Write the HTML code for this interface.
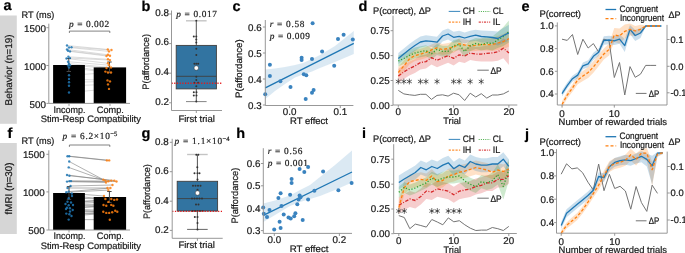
<!DOCTYPE html>
<html><head><meta charset="utf-8"><style>
html,body{margin:0;padding:0;background:#fff;}
svg{display:block;font-family:"Liberation Sans", sans-serif;will-change:transform;}
text{text-rendering:geometricPrecision;stroke:#1a1a1a;stroke-width:0.22px;paint-order:stroke;}
text.pv{stroke-width:0.2px;}
</style></head><body>
<svg width="685" height="253" viewBox="0 0 685 253" font-family='"Liberation Sans", sans-serif' fill="#1a1a1a">
<rect x="0" y="15.5" width="16.8" height="108.3" fill="#d6d6d6" />
<text x="11.9" y="70" font-size="9.8" text-anchor="middle" textLength="71" lengthAdjust="spacingAndGlyphs" transform="rotate(-90 11.9 70)">Behavior (n=19)</text>
<rect x="0" y="143" width="16.8" height="91" fill="#d6d6d6" />
<text x="11.9" y="188.5" font-size="9.8" text-anchor="middle" textLength="52" lengthAdjust="spacingAndGlyphs" transform="rotate(-90 11.9 188.5)">fMRI (n=30)</text>
<text x="3.6" y="10.4" font-size="14.5" font-weight="bold" fill="#000">a</text>
<line x1="67" y1="45.5" x2="107.8" y2="49.5" stroke="#c4c4c4" stroke-width="0.6" />
<line x1="71.5" y1="47.2" x2="111.5" y2="50" stroke="#c4c4c4" stroke-width="0.6" />
<line x1="69" y1="47.5" x2="109" y2="51.4" stroke="#c4c4c4" stroke-width="0.6" />
<line x1="67" y1="49.5" x2="108" y2="54.8" stroke="#c4c4c4" stroke-width="0.6" />
<line x1="68" y1="50.8" x2="110" y2="55.8" stroke="#c4c4c4" stroke-width="0.6" />
<line x1="70" y1="51.4" x2="106.5" y2="56" stroke="#c4c4c4" stroke-width="0.6" />
<line x1="68.4" y1="56.8" x2="108" y2="59.3" stroke="#c4c4c4" stroke-width="0.6" />
<line x1="70" y1="58.1" x2="110" y2="60.1" stroke="#c4c4c4" stroke-width="0.6" />
<line x1="66.5" y1="58.5" x2="108" y2="63.3" stroke="#c4c4c4" stroke-width="0.6" />
<line x1="68" y1="61.7" x2="109" y2="65.2" stroke="#c4c4c4" stroke-width="0.6" />
<line x1="69" y1="63.7" x2="111" y2="67.5" stroke="#c4c4c4" stroke-width="0.6" />
<line x1="70" y1="65.2" x2="106.5" y2="68" stroke="#c4c4c4" stroke-width="0.6" />
<line x1="68" y1="65.6" x2="105.4" y2="71.6" stroke="#c4c4c4" stroke-width="0.6" />
<line x1="69" y1="67.6" x2="108" y2="72.5" stroke="#c4c4c4" stroke-width="0.6" />
<line x1="69" y1="75.3" x2="111" y2="72.5" stroke="#c4c4c4" stroke-width="0.6" />
<line x1="69" y1="79" x2="107.5" y2="80.4" stroke="#c4c4c4" stroke-width="0.6" />
<line x1="69" y1="82.3" x2="110" y2="81.4" stroke="#c4c4c4" stroke-width="0.6" />
<line x1="69" y1="85.8" x2="108" y2="84.4" stroke="#c4c4c4" stroke-width="0.6" />
<line x1="69" y1="92.5" x2="109" y2="88.9" stroke="#c4c4c4" stroke-width="0.6" />
<rect x="53.1" y="65" width="31.8" height="38.4" fill="#000" />
<rect x="93.7" y="67.4" width="32.4" height="36" fill="#000" />
<line x1="48.8" y1="23.7" x2="48.8" y2="103.4" stroke="#8c8c8c" stroke-width="0.9" />
<line x1="48.8" y1="103.4" x2="130" y2="103.4" stroke="#8c8c8c" stroke-width="0.9" />
<line x1="46.4" y1="27.7" x2="48.8" y2="27.7" stroke="#8c8c8c" stroke-width="0.9" />
<text x="45.9" y="31.81" font-size="9.8" text-anchor="end">1500</text>
<line x1="46.4" y1="65.5" x2="48.8" y2="65.5" stroke="#8c8c8c" stroke-width="0.9" />
<text x="45.9" y="69.61" font-size="9.8" text-anchor="end">1000</text>
<line x1="46.4" y1="103.4" x2="48.8" y2="103.4" stroke="#8c8c8c" stroke-width="0.9" />
<text x="45.9" y="107.51" font-size="9.8" text-anchor="end">500</text>
<line x1="69" y1="103.4" x2="69" y2="105.9" stroke="#8c8c8c" stroke-width="0.9" />
<line x1="110" y1="103.4" x2="110" y2="105.9" stroke="#8c8c8c" stroke-width="0.9" />
<text x="69.5" y="112.6" font-size="9.4" text-anchor="middle" textLength="32" lengthAdjust="spacingAndGlyphs">Incomp.</text>
<text x="110.3" y="112.6" font-size="9.4" text-anchor="middle" textLength="27" lengthAdjust="spacingAndGlyphs">Comp.</text>
<text x="90.8" y="122.2" font-size="9.4" text-anchor="middle" textLength="100.3" lengthAdjust="spacingAndGlyphs">Stim-Resp Compatibility</text>
<text x="21.6" y="17.8" font-size="9.4" textLength="32.8" lengthAdjust="spacingAndGlyphs">RT (ms)</text>
<line x1="68.8" y1="58.5" x2="68.8" y2="71.5" stroke="#444" stroke-width="1.0" />
<line x1="66.6" y1="58.5" x2="71" y2="58.5" stroke="#444" stroke-width="1.0" />
<line x1="66.6" y1="71.5" x2="71" y2="71.5" stroke="#444" stroke-width="1.0" />
<line x1="109.5" y1="62" x2="109.5" y2="72.8" stroke="#444" stroke-width="1.0" />
<line x1="107.3" y1="62" x2="111.7" y2="62" stroke="#444" stroke-width="1.0" />
<line x1="107.3" y1="72.8" x2="111.7" y2="72.8" stroke="#444" stroke-width="1.0" />
<circle cx="67" cy="45.5" r="1.2" fill="#1f77b4" fill-opacity="0.85"/>
<circle cx="69" cy="47.5" r="1.2" fill="#1f77b4" fill-opacity="0.85"/>
<circle cx="71.5" cy="47.2" r="1.2" fill="#1f77b4" fill-opacity="0.85"/>
<circle cx="67" cy="49.5" r="1.2" fill="#1f77b4" fill-opacity="0.85"/>
<circle cx="68" cy="50.8" r="1.2" fill="#1f77b4" fill-opacity="0.85"/>
<circle cx="70" cy="51.4" r="1.2" fill="#1f77b4" fill-opacity="0.85"/>
<circle cx="68.4" cy="56.8" r="1.2" fill="#1f77b4" fill-opacity="0.85"/>
<circle cx="70" cy="58.1" r="1.2" fill="#1f77b4" fill-opacity="0.85"/>
<circle cx="66.5" cy="58.5" r="1.2" fill="#1f77b4" fill-opacity="0.85"/>
<circle cx="68" cy="61.7" r="1.2" fill="#1f77b4" fill-opacity="0.85"/>
<circle cx="69" cy="63.7" r="1.2" fill="#1f77b4" fill-opacity="0.85"/>
<circle cx="70" cy="65.2" r="1.2" fill="#1f77b4" fill-opacity="0.85"/>
<circle cx="68" cy="65.6" r="1.2" fill="#1f77b4" fill-opacity="0.85"/>
<circle cx="69" cy="67.6" r="1.2" fill="#1f77b4" fill-opacity="0.85"/>
<circle cx="69" cy="75.3" r="1.2" fill="#1f77b4" fill-opacity="0.85"/>
<circle cx="69" cy="79" r="1.2" fill="#1f77b4" fill-opacity="0.85"/>
<circle cx="69" cy="82.3" r="1.2" fill="#1f77b4" fill-opacity="0.85"/>
<circle cx="69" cy="85.8" r="1.2" fill="#1f77b4" fill-opacity="0.85"/>
<circle cx="69" cy="92.5" r="1.2" fill="#1f77b4" fill-opacity="0.85"/>
<circle cx="107.8" cy="49.5" r="1.2" fill="#ff7f0e" fill-opacity="0.85"/>
<circle cx="111.5" cy="50" r="1.2" fill="#ff7f0e" fill-opacity="0.85"/>
<circle cx="109" cy="51.4" r="1.2" fill="#ff7f0e" fill-opacity="0.85"/>
<circle cx="108" cy="54.8" r="1.2" fill="#ff7f0e" fill-opacity="0.85"/>
<circle cx="110" cy="55.8" r="1.2" fill="#ff7f0e" fill-opacity="0.85"/>
<circle cx="106.5" cy="56" r="1.2" fill="#ff7f0e" fill-opacity="0.85"/>
<circle cx="108" cy="59.3" r="1.2" fill="#ff7f0e" fill-opacity="0.85"/>
<circle cx="110" cy="60.1" r="1.2" fill="#ff7f0e" fill-opacity="0.85"/>
<circle cx="108" cy="63.3" r="1.2" fill="#ff7f0e" fill-opacity="0.85"/>
<circle cx="109" cy="65.2" r="1.2" fill="#ff7f0e" fill-opacity="0.85"/>
<circle cx="111" cy="67.5" r="1.2" fill="#ff7f0e" fill-opacity="0.85"/>
<circle cx="106.5" cy="68" r="1.2" fill="#ff7f0e" fill-opacity="0.85"/>
<circle cx="105.4" cy="71.6" r="1.2" fill="#ff7f0e" fill-opacity="0.85"/>
<circle cx="108" cy="72.5" r="1.2" fill="#ff7f0e" fill-opacity="0.85"/>
<circle cx="111" cy="72.5" r="1.2" fill="#ff7f0e" fill-opacity="0.85"/>
<circle cx="107.5" cy="80.4" r="1.2" fill="#ff7f0e" fill-opacity="0.85"/>
<circle cx="110" cy="81.4" r="1.2" fill="#ff7f0e" fill-opacity="0.85"/>
<circle cx="108" cy="84.4" r="1.2" fill="#ff7f0e" fill-opacity="0.85"/>
<circle cx="109" cy="88.9" r="1.2" fill="#ff7f0e" fill-opacity="0.85"/>
<path d="M69.4 33 V31.1 H109.8 V33" fill="none" stroke="#5a5a5a" stroke-width="0.75"/>
<text x="69" y="26.8" font-size="9.3" font-family='"Liberation Serif", serif' class="pv" textLength="40.2" lengthAdjust="spacing"><tspan font-style="italic">p</tspan> = 0.002</text>
<text x="7.6" y="138.3" font-size="14.5" font-weight="bold" fill="#000">f</text>
<line x1="67.5" y1="156.2" x2="106.9" y2="160.4" stroke="#7d7d7d" stroke-width="0.6" />
<line x1="69.2" y1="156.2" x2="109.2" y2="160.4" stroke="#7d7d7d" stroke-width="0.6" />
<line x1="69.2" y1="161.5" x2="103.3" y2="179.7" stroke="#7d7d7d" stroke-width="0.6" />
<line x1="68.7" y1="167.4" x2="105.4" y2="180.6" stroke="#7d7d7d" stroke-width="0.6" />
<line x1="67" y1="175" x2="111.3" y2="180.6" stroke="#7d7d7d" stroke-width="0.6" />
<line x1="69.4" y1="175.7" x2="114.3" y2="180.6" stroke="#7d7d7d" stroke-width="0.6" />
<line x1="69.4" y1="181.1" x2="108.4" y2="181.2" stroke="#7d7d7d" stroke-width="0.6" />
<line x1="71" y1="181.1" x2="116.5" y2="181.5" stroke="#7d7d7d" stroke-width="0.6" />
<line x1="67" y1="181.6" x2="106" y2="182.5" stroke="#7d7d7d" stroke-width="0.6" />
<line x1="70.5" y1="186" x2="112.5" y2="185" stroke="#7d7d7d" stroke-width="0.6" />
<line x1="67.5" y1="188" x2="107.5" y2="188" stroke="#7d7d7d" stroke-width="0.6" />
<line x1="68.7" y1="191.6" x2="110.4" y2="188" stroke="#7d7d7d" stroke-width="0.6" />
<line x1="66.3" y1="192.3" x2="108.4" y2="190.1" stroke="#7d7d7d" stroke-width="0.6" />
<line x1="71.8" y1="193.5" x2="104" y2="196" stroke="#7d7d7d" stroke-width="0.6" />
<line x1="72" y1="196" x2="105.4" y2="199" stroke="#7d7d7d" stroke-width="0.6" />
<line x1="68.7" y1="198.2" x2="111.3" y2="199" stroke="#7d7d7d" stroke-width="0.6" />
<line x1="67.5" y1="201.8" x2="117" y2="199.5" stroke="#7d7d7d" stroke-width="0.6" />
<line x1="71" y1="202.5" x2="114.3" y2="199.9" stroke="#7d7d7d" stroke-width="0.6" />
<line x1="65.5" y1="204" x2="108.4" y2="201.9" stroke="#7d7d7d" stroke-width="0.6" />
<line x1="73" y1="205" x2="111.3" y2="204.9" stroke="#7d7d7d" stroke-width="0.6" />
<line x1="68.7" y1="205.3" x2="103.5" y2="205" stroke="#7d7d7d" stroke-width="0.6" />
<line x1="67" y1="207.7" x2="106.3" y2="205.8" stroke="#7d7d7d" stroke-width="0.6" />
<line x1="69.9" y1="208.2" x2="113.4" y2="205.8" stroke="#7d7d7d" stroke-width="0.6" />
<line x1="66" y1="209" x2="115.2" y2="210.8" stroke="#7d7d7d" stroke-width="0.6" />
<line x1="72.7" y1="210" x2="103.3" y2="211.7" stroke="#7d7d7d" stroke-width="0.6" />
<line x1="70" y1="211.5" x2="117.3" y2="211.7" stroke="#7d7d7d" stroke-width="0.6" />
<line x1="66.3" y1="213.6" x2="112.2" y2="212.3" stroke="#7d7d7d" stroke-width="0.6" />
<line x1="69.4" y1="214.3" x2="106.3" y2="212.9" stroke="#7d7d7d" stroke-width="0.6" />
<line x1="71.5" y1="216" x2="109.2" y2="212.9" stroke="#7d7d7d" stroke-width="0.6" />
<line x1="68.7" y1="219.6" x2="109.8" y2="219.7" stroke="#7d7d7d" stroke-width="0.6" />
<rect x="53.1" y="193" width="31.8" height="37" fill="#000" />
<rect x="93.7" y="197" width="32.4" height="33" fill="#000" />
<line x1="48.8" y1="150.3" x2="48.8" y2="230" stroke="#8c8c8c" stroke-width="0.9" />
<line x1="48.8" y1="230" x2="130" y2="230" stroke="#8c8c8c" stroke-width="0.9" />
<line x1="46.4" y1="154.3" x2="48.8" y2="154.3" stroke="#8c8c8c" stroke-width="0.9" />
<text x="44.7" y="158.41" font-size="9.8" text-anchor="end">1500</text>
<line x1="46.4" y1="191.9" x2="48.8" y2="191.9" stroke="#8c8c8c" stroke-width="0.9" />
<text x="44.7" y="196.01" font-size="9.8" text-anchor="end">1000</text>
<line x1="46.4" y1="230" x2="48.8" y2="230" stroke="#8c8c8c" stroke-width="0.9" />
<text x="44.7" y="234.11" font-size="9.8" text-anchor="end">500</text>
<line x1="69" y1="230" x2="69" y2="232.5" stroke="#8c8c8c" stroke-width="0.9" />
<line x1="110" y1="230" x2="110" y2="232.5" stroke="#8c8c8c" stroke-width="0.9" />
<text x="69.5" y="238.7" font-size="9.4" text-anchor="middle" textLength="32" lengthAdjust="spacingAndGlyphs">Incomp.</text>
<text x="110.3" y="238.7" font-size="9.4" text-anchor="middle" textLength="27" lengthAdjust="spacingAndGlyphs">Comp.</text>
<text x="90.8" y="249.3" font-size="9.4" text-anchor="middle" textLength="100.3" lengthAdjust="spacingAndGlyphs">Stim-Resp Compatibility</text>
<text x="21.6" y="143.9" font-size="9.4" textLength="32.8" lengthAdjust="spacingAndGlyphs">RT (ms)</text>
<line x1="69" y1="186.6" x2="69" y2="199.4" stroke="#444" stroke-width="1.0" />
<line x1="66.8" y1="186.6" x2="71.2" y2="186.6" stroke="#444" stroke-width="1.0" />
<line x1="66.8" y1="199.4" x2="71.2" y2="199.4" stroke="#444" stroke-width="1.0" />
<line x1="109.4" y1="191.5" x2="109.4" y2="202.5" stroke="#444" stroke-width="1.0" />
<line x1="107.2" y1="191.5" x2="111.6" y2="191.5" stroke="#444" stroke-width="1.0" />
<line x1="107.2" y1="202.5" x2="111.6" y2="202.5" stroke="#444" stroke-width="1.0" />
<circle cx="67.5" cy="156.2" r="1.2" fill="#1f77b4" fill-opacity="0.85"/>
<circle cx="69.2" cy="156.2" r="1.2" fill="#1f77b4" fill-opacity="0.85"/>
<circle cx="69.2" cy="161.5" r="1.2" fill="#1f77b4" fill-opacity="0.85"/>
<circle cx="68.7" cy="167.4" r="1.2" fill="#1f77b4" fill-opacity="0.85"/>
<circle cx="67" cy="175" r="1.2" fill="#1f77b4" fill-opacity="0.85"/>
<circle cx="69.4" cy="175.7" r="1.2" fill="#1f77b4" fill-opacity="0.85"/>
<circle cx="67" cy="181.6" r="1.2" fill="#1f77b4" fill-opacity="0.85"/>
<circle cx="69.4" cy="181.1" r="1.2" fill="#1f77b4" fill-opacity="0.85"/>
<circle cx="71" cy="181.1" r="1.2" fill="#1f77b4" fill-opacity="0.85"/>
<circle cx="66.3" cy="192.3" r="1.2" fill="#1f77b4" fill-opacity="0.85"/>
<circle cx="68.7" cy="191.6" r="1.2" fill="#1f77b4" fill-opacity="0.85"/>
<circle cx="71.8" cy="193.5" r="1.2" fill="#1f77b4" fill-opacity="0.85"/>
<circle cx="68.7" cy="198.2" r="1.2" fill="#1f77b4" fill-opacity="0.85"/>
<circle cx="67.5" cy="201.8" r="1.2" fill="#1f77b4" fill-opacity="0.85"/>
<circle cx="71" cy="202.5" r="1.2" fill="#1f77b4" fill-opacity="0.85"/>
<circle cx="68.7" cy="205.3" r="1.2" fill="#1f77b4" fill-opacity="0.85"/>
<circle cx="67" cy="207.7" r="1.2" fill="#1f77b4" fill-opacity="0.85"/>
<circle cx="69.9" cy="208.2" r="1.2" fill="#1f77b4" fill-opacity="0.85"/>
<circle cx="72.7" cy="210" r="1.2" fill="#1f77b4" fill-opacity="0.85"/>
<circle cx="66.3" cy="213.6" r="1.2" fill="#1f77b4" fill-opacity="0.85"/>
<circle cx="69.4" cy="214.3" r="1.2" fill="#1f77b4" fill-opacity="0.85"/>
<circle cx="68.7" cy="219.6" r="1.2" fill="#1f77b4" fill-opacity="0.85"/>
<circle cx="70.5" cy="186" r="1.2" fill="#1f77b4" fill-opacity="0.85"/>
<circle cx="67.5" cy="188" r="1.2" fill="#1f77b4" fill-opacity="0.85"/>
<circle cx="72" cy="196" r="1.2" fill="#1f77b4" fill-opacity="0.85"/>
<circle cx="65.5" cy="204" r="1.2" fill="#1f77b4" fill-opacity="0.85"/>
<circle cx="73" cy="205" r="1.2" fill="#1f77b4" fill-opacity="0.85"/>
<circle cx="70" cy="211.5" r="1.2" fill="#1f77b4" fill-opacity="0.85"/>
<circle cx="66" cy="209" r="1.2" fill="#1f77b4" fill-opacity="0.85"/>
<circle cx="71.5" cy="216" r="1.2" fill="#1f77b4" fill-opacity="0.85"/>
<circle cx="106.9" cy="160.4" r="1.2" fill="#ff7f0e" fill-opacity="0.85"/>
<circle cx="109.2" cy="160.4" r="1.2" fill="#ff7f0e" fill-opacity="0.85"/>
<circle cx="103.3" cy="179.7" r="1.2" fill="#ff7f0e" fill-opacity="0.85"/>
<circle cx="105.4" cy="180.6" r="1.2" fill="#ff7f0e" fill-opacity="0.85"/>
<circle cx="108.4" cy="181.2" r="1.2" fill="#ff7f0e" fill-opacity="0.85"/>
<circle cx="111.3" cy="180.6" r="1.2" fill="#ff7f0e" fill-opacity="0.85"/>
<circle cx="114.3" cy="180.6" r="1.2" fill="#ff7f0e" fill-opacity="0.85"/>
<circle cx="107.5" cy="188" r="1.2" fill="#ff7f0e" fill-opacity="0.85"/>
<circle cx="110.4" cy="188" r="1.2" fill="#ff7f0e" fill-opacity="0.85"/>
<circle cx="108.4" cy="190.1" r="1.2" fill="#ff7f0e" fill-opacity="0.85"/>
<circle cx="105.4" cy="199" r="1.2" fill="#ff7f0e" fill-opacity="0.85"/>
<circle cx="111.3" cy="199" r="1.2" fill="#ff7f0e" fill-opacity="0.85"/>
<circle cx="114.3" cy="199.9" r="1.2" fill="#ff7f0e" fill-opacity="0.85"/>
<circle cx="108.4" cy="201.9" r="1.2" fill="#ff7f0e" fill-opacity="0.85"/>
<circle cx="106.3" cy="205.8" r="1.2" fill="#ff7f0e" fill-opacity="0.85"/>
<circle cx="111.3" cy="204.9" r="1.2" fill="#ff7f0e" fill-opacity="0.85"/>
<circle cx="113.4" cy="205.8" r="1.2" fill="#ff7f0e" fill-opacity="0.85"/>
<circle cx="103.3" cy="211.7" r="1.2" fill="#ff7f0e" fill-opacity="0.85"/>
<circle cx="106.3" cy="212.9" r="1.2" fill="#ff7f0e" fill-opacity="0.85"/>
<circle cx="109.2" cy="212.9" r="1.2" fill="#ff7f0e" fill-opacity="0.85"/>
<circle cx="112.2" cy="212.3" r="1.2" fill="#ff7f0e" fill-opacity="0.85"/>
<circle cx="115.2" cy="210.8" r="1.2" fill="#ff7f0e" fill-opacity="0.85"/>
<circle cx="117.3" cy="211.7" r="1.2" fill="#ff7f0e" fill-opacity="0.85"/>
<circle cx="109.8" cy="219.7" r="1.2" fill="#ff7f0e" fill-opacity="0.85"/>
<circle cx="116.5" cy="181.5" r="1.2" fill="#ff7f0e" fill-opacity="0.85"/>
<circle cx="112.5" cy="185" r="1.2" fill="#ff7f0e" fill-opacity="0.85"/>
<circle cx="104" cy="196" r="1.2" fill="#ff7f0e" fill-opacity="0.85"/>
<circle cx="117" cy="199.5" r="1.2" fill="#ff7f0e" fill-opacity="0.85"/>
<circle cx="103.5" cy="205" r="1.2" fill="#ff7f0e" fill-opacity="0.85"/>
<circle cx="106" cy="182.5" r="1.2" fill="#ff7f0e" fill-opacity="0.85"/>
<path d="M69.4 146.9 V145 H109.8 V146.9" fill="none" stroke="#5a5a5a" stroke-width="0.75"/>
<text x="62.6" y="139.3" font-size="9.3" font-family='"Liberation Serif", serif' class="pv" textLength="47.2" lengthAdjust="spacing"><tspan font-style="italic">p</tspan> = 6.2×10</text>
<text x="110.3" y="136" font-size="6.6" font-family='"Liberation Serif", serif' class="pv">−5</text>
<text x="141.4" y="10.6" font-size="14.5" font-weight="bold" fill="#000">b</text>
<rect x="176.2" y="45.4" width="40.2" height="43.5" fill="#3274a1" stroke="#3f3f3f" stroke-width="0.9"/>
<line x1="176.2" y1="76.3" x2="216.4" y2="76.3" stroke="#3f3f3f" stroke-width="0.9" />
<line x1="196.3" y1="20.8" x2="196.3" y2="45.4" stroke="#3f3f3f" stroke-width="0.9" />
<line x1="196.3" y1="88.9" x2="196.3" y2="101.6" stroke="#3f3f3f" stroke-width="0.9" />
<line x1="186" y1="20.8" x2="206.6" y2="20.8" stroke="#c4c4c4" stroke-width="1.4" />
<line x1="186" y1="101.6" x2="206.6" y2="101.6" stroke="#777" stroke-width="0.9" />
<circle cx="196.3" cy="20.8" r="1.0" fill="#333" />
<circle cx="193.8" cy="36.4" r="1.0" fill="#333" />
<circle cx="196.3" cy="36.6" r="1.0" fill="#333" />
<circle cx="196.3" cy="39.6" r="1.0" fill="#333" />
<circle cx="196.3" cy="42.6" r="1.0" fill="#333" />
<circle cx="196.3" cy="48.8" r="1.0" fill="#333" />
<circle cx="196.3" cy="55" r="1.0" fill="#333" />
<circle cx="194.4" cy="63.7" r="1.0" fill="#333" />
<circle cx="196.3" cy="63.7" r="1.0" fill="#333" />
<circle cx="198.2" cy="63.7" r="1.0" fill="#333" />
<circle cx="196.3" cy="76.8" r="1.0" fill="#333" />
<circle cx="196.3" cy="79.9" r="1.0" fill="#333" />
<circle cx="194.4" cy="82.7" r="1.0" fill="#333" />
<circle cx="198.2" cy="82.7" r="1.0" fill="#333" />
<circle cx="196.3" cy="86.3" r="1.0" fill="#333" />
<circle cx="193.8" cy="92.3" r="1.0" fill="#333" />
<circle cx="196.5" cy="92.3" r="1.0" fill="#333" />
<circle cx="193.8" cy="95.4" r="1.0" fill="#333" />
<circle cx="196.5" cy="95.4" r="1.0" fill="#333" />
<circle cx="196.3" cy="101.6" r="1.0" fill="#333" />
<line x1="171.5" y1="83.2" x2="221.5" y2="83.2" stroke="#e41a1c" stroke-width="1.35" stroke-dasharray="1.2 1.5"/>
<circle cx="196.3" cy="68" r="2.3" fill="#fff" stroke="#333" stroke-width="0.5"/>
<line x1="171.5" y1="10.5" x2="171.5" y2="110.5" stroke="#8c8c8c" stroke-width="0.9" />
<line x1="171.5" y1="110.5" x2="222" y2="110.5" stroke="#8c8c8c" stroke-width="0.9" />
<line x1="169.1" y1="14" x2="171.5" y2="14" stroke="#8c8c8c" stroke-width="0.9" />
<text x="168.9" y="15.81" font-size="9.8" text-anchor="end">0.8</text>
<line x1="169.1" y1="43.6" x2="171.5" y2="43.6" stroke="#8c8c8c" stroke-width="0.9" />
<text x="168.9" y="45.41" font-size="9.8" text-anchor="end">0.6</text>
<line x1="169.1" y1="73.2" x2="171.5" y2="73.2" stroke="#8c8c8c" stroke-width="0.9" />
<text x="168.9" y="75.01" font-size="9.8" text-anchor="end">0.4</text>
<line x1="169.1" y1="102.8" x2="171.5" y2="102.8" stroke="#8c8c8c" stroke-width="0.9" />
<text x="168.9" y="104.61" font-size="9.8" text-anchor="end">0.2</text>
<line x1="196.3" y1="110.5" x2="196.3" y2="113" stroke="#8c8c8c" stroke-width="0.9" />
<text x="178.4" y="121.5" font-size="9.4" textLength="36.4" lengthAdjust="spacingAndGlyphs">First trial</text>
<text x="149.4" y="61.8" font-size="9.4" text-anchor="middle" textLength="55.7" lengthAdjust="spacingAndGlyphs" transform="rotate(-90 149.4 61.8)">P(affordance)</text>
<text x="176.2" y="17.4" font-size="9.3" font-family='"Liberation Serif", serif' class="pv" textLength="40.8" lengthAdjust="spacing"><tspan font-style="italic">p</tspan> = 0.017</text>
<text x="141.4" y="137.6" font-size="14.5" font-weight="bold" fill="#000">g</text>
<rect x="177.2" y="181.3" width="40.4" height="29.7" fill="#3274a1" stroke="#3f3f3f" stroke-width="0.9"/>
<line x1="177.2" y1="198.6" x2="217.6" y2="198.6" stroke="#3f3f3f" stroke-width="0.9" />
<line x1="197.4" y1="154.5" x2="197.4" y2="181.3" stroke="#3f3f3f" stroke-width="0.9" />
<line x1="197.4" y1="211" x2="197.4" y2="229.4" stroke="#3f3f3f" stroke-width="0.9" />
<line x1="187.1" y1="154.5" x2="207.7" y2="154.5" stroke="#c4c4c4" stroke-width="1.4" />
<line x1="187.1" y1="229.4" x2="207.7" y2="229.4" stroke="#555" stroke-width="0.9" />
<circle cx="196.3" cy="154.8" r="1.0" fill="#333" />
<circle cx="198.3" cy="154.8" r="1.0" fill="#333" />
<circle cx="197.3" cy="167.3" r="1.0" fill="#333" />
<circle cx="194.5" cy="173.2" r="1.0" fill="#333" />
<circle cx="197.5" cy="173.2" r="1.0" fill="#333" />
<circle cx="199.5" cy="173.2" r="1.0" fill="#333" />
<circle cx="197.5" cy="179.5" r="1.0" fill="#333" />
<circle cx="193" cy="185.8" r="1.0" fill="#333" />
<circle cx="195.5" cy="185.8" r="1.0" fill="#333" />
<circle cx="198" cy="185.8" r="1.0" fill="#333" />
<circle cx="200.5" cy="185.8" r="1.0" fill="#333" />
<circle cx="197.5" cy="189.7" r="1.0" fill="#333" />
<circle cx="192" cy="198.6" r="1.0" fill="#333" />
<circle cx="194.5" cy="198.6" r="1.0" fill="#333" />
<circle cx="197" cy="198.6" r="1.0" fill="#333" />
<circle cx="199.5" cy="198.6" r="1.0" fill="#333" />
<circle cx="202" cy="198.6" r="1.0" fill="#333" />
<circle cx="196" cy="204.5" r="1.0" fill="#333" />
<circle cx="198.5" cy="204.5" r="1.0" fill="#333" />
<circle cx="192.5" cy="211" r="1.0" fill="#333" />
<circle cx="195" cy="211" r="1.0" fill="#333" />
<circle cx="197.5" cy="211" r="1.0" fill="#333" />
<circle cx="200" cy="211" r="1.0" fill="#333" />
<circle cx="202.5" cy="211" r="1.0" fill="#333" />
<circle cx="194.8" cy="217" r="1.0" fill="#333" />
<circle cx="197.5" cy="217" r="1.0" fill="#333" />
<circle cx="197.5" cy="223.1" r="1.0" fill="#333" />
<circle cx="197.5" cy="229.4" r="1.0" fill="#333" />
<line x1="172.2" y1="211.3" x2="222.2" y2="211.3" stroke="#e41a1c" stroke-width="1.35" stroke-dasharray="1.2 1.5"/>
<circle cx="197.5" cy="193" r="2.3" fill="#fff" stroke="#333" stroke-width="0.5"/>
<line x1="172.2" y1="138.8" x2="172.2" y2="238.3" stroke="#8c8c8c" stroke-width="0.9" />
<line x1="172.2" y1="238.3" x2="222.7" y2="238.3" stroke="#8c8c8c" stroke-width="0.9" />
<line x1="169.8" y1="142.3" x2="172.2" y2="142.3" stroke="#8c8c8c" stroke-width="0.9" />
<text x="168.7" y="144.91" font-size="9.8" text-anchor="end">0.8</text>
<line x1="169.8" y1="171.7" x2="172.2" y2="171.7" stroke="#8c8c8c" stroke-width="0.9" />
<text x="168.7" y="174.31" font-size="9.8" text-anchor="end">0.6</text>
<line x1="169.8" y1="201.2" x2="172.2" y2="201.2" stroke="#8c8c8c" stroke-width="0.9" />
<text x="168.7" y="203.81" font-size="9.8" text-anchor="end">0.4</text>
<line x1="169.8" y1="230.4" x2="172.2" y2="230.4" stroke="#8c8c8c" stroke-width="0.9" />
<text x="168.7" y="233.01" font-size="9.8" text-anchor="end">0.2</text>
<line x1="197.4" y1="238.3" x2="197.4" y2="240.8" stroke="#8c8c8c" stroke-width="0.9" />
<text x="178.4" y="248.3" font-size="9.4" textLength="36.4" lengthAdjust="spacingAndGlyphs">First trial</text>
<text x="150.3" y="191.6" font-size="9.4" text-anchor="middle" textLength="55" lengthAdjust="spacingAndGlyphs" transform="rotate(-90 150.3 191.6)">P(affordance)</text>
<text x="174.4" y="143.6" font-size="9.3" font-family='"Liberation Serif", serif' class="pv" textLength="47.8" lengthAdjust="spacing"><tspan font-style="italic">p</tspan> = 1.1×10</text>
<text x="222.6" y="140.6" font-size="6.6" font-family='"Liberation Serif", serif' class="pv">−4</text>
<text x="232.4" y="10.5" font-size="14.5" font-weight="bold" fill="#000">c</text>
<polygon points="265.3,69.5 275,68.5 285,67 295,65 303,63 312,59 320,55 335,46 353.8,31 353.8,54 335,62 320,68 312,71.5 303,74.5 295,77.5 285,84 275,91 265.3,99" fill="#1f77b4" fill-opacity="0.16" stroke="none"/>
<polyline points="265.3,87.9 353.8,43.3" fill="none" stroke="#1f77b4" stroke-width="1.3" stroke-linejoin="round" />
<circle cx="312.6" cy="23.3" r="2.0" fill="#3a83bf" />
<circle cx="338" cy="38.9" r="2.0" fill="#3a83bf" />
<circle cx="343.6" cy="34.7" r="2.0" fill="#3a83bf" />
<circle cx="352.8" cy="39.5" r="2.0" fill="#3a83bf" />
<circle cx="269.9" cy="64.8" r="2.0" fill="#3a83bf" />
<circle cx="269.9" cy="75.9" r="2.0" fill="#3a83bf" />
<circle cx="280.4" cy="81.3" r="2.0" fill="#3a83bf" />
<circle cx="290.5" cy="87" r="2.0" fill="#3a83bf" />
<circle cx="265.2" cy="94.2" r="2.0" fill="#3a83bf" />
<circle cx="301.6" cy="57.8" r="2.0" fill="#3a83bf" />
<circle cx="301.6" cy="60.1" r="2.0" fill="#3a83bf" />
<circle cx="312" cy="59.1" r="2.0" fill="#3a83bf" />
<circle cx="322.1" cy="51.5" r="2.0" fill="#3a83bf" />
<circle cx="334.2" cy="65.8" r="2.0" fill="#3a83bf" />
<circle cx="303.8" cy="74.3" r="2.0" fill="#3a83bf" />
<circle cx="306.3" cy="75.3" r="2.0" fill="#3a83bf" />
<circle cx="312" cy="92.7" r="2.0" fill="#3a83bf" />
<circle cx="313.6" cy="90.1" r="2.0" fill="#3a83bf" />
<circle cx="305.7" cy="99" r="2.0" fill="#3a83bf" />
<line x1="265.3" y1="20" x2="265.3" y2="105.5" stroke="#8c8c8c" stroke-width="0.9" />
<line x1="265.3" y1="105.5" x2="353.4" y2="105.5" stroke="#8c8c8c" stroke-width="0.9" />
<line x1="262.9" y1="27" x2="265.3" y2="27" stroke="#8c8c8c" stroke-width="0.9" />
<text x="261.6" y="30.61" font-size="9.8" text-anchor="end">0.6</text>
<line x1="262.9" y1="53" x2="265.3" y2="53" stroke="#8c8c8c" stroke-width="0.9" />
<text x="261.6" y="56.61" font-size="9.8" text-anchor="end">0.5</text>
<line x1="262.9" y1="79" x2="265.3" y2="79" stroke="#8c8c8c" stroke-width="0.9" />
<text x="261.6" y="82.61" font-size="9.8" text-anchor="end">0.4</text>
<line x1="262.9" y1="105" x2="265.3" y2="105" stroke="#8c8c8c" stroke-width="0.9" />
<text x="261.6" y="108.61" font-size="9.8" text-anchor="end">0.3</text>
<line x1="289.6" y1="105.5" x2="289.6" y2="108.1" stroke="#8c8c8c" stroke-width="0.9" />
<text x="289.6" y="114.9" font-size="9.8" text-anchor="middle">0.0</text>
<line x1="340.3" y1="105.5" x2="340.3" y2="108.1" stroke="#8c8c8c" stroke-width="0.9" />
<text x="340.3" y="114.9" font-size="9.8" text-anchor="middle">0.1</text>
<text x="290" y="124.2" font-size="9.4" textLength="38" lengthAdjust="spacingAndGlyphs">RT effect</text>
<text x="269.8" y="27.2" font-size="9.3" font-family='"Liberation Serif", serif' class="pv" textLength="34.6" lengthAdjust="spacing"><tspan font-style="italic">r</tspan> = 0.58</text>
<text x="269.8" y="39.3" font-size="9.3" font-family='"Liberation Serif", serif' class="pv" textLength="40.2" lengthAdjust="spacing"><tspan font-style="italic">p</tspan> = 0.009</text>
<text x="242.1" y="68.6" font-size="9.4" text-anchor="middle" textLength="58.8" lengthAdjust="spacingAndGlyphs" transform="rotate(-90 242.1 68.6)">P(affordance)</text>
<text x="236.2" y="138.3" font-size="14.5" font-weight="bold" fill="#000">h</text>
<polygon points="263.3,203.5 275,200.5 290,195.5 300,190 310,185 320,177 335,165 352,150.5 352,182.5 335,190 320,196 310,199 300,202 290,206 275,215 263.3,222" fill="#1f77b4" fill-opacity="0.16" stroke="none"/>
<polyline points="263.3,215.4 352,172" fill="none" stroke="#1f77b4" stroke-width="1.3" stroke-linejoin="round" />
<circle cx="299.6" cy="168.9" r="2.0" fill="#3a83bf" />
<circle cx="304.3" cy="172" r="2.0" fill="#3a83bf" />
<circle cx="308.1" cy="167" r="2.0" fill="#3a83bf" />
<circle cx="291.6" cy="179" r="2.0" fill="#3a83bf" />
<circle cx="291.6" cy="183.1" r="2.0" fill="#3a83bf" />
<circle cx="280.6" cy="193.2" r="2.0" fill="#3a83bf" />
<circle cx="278.4" cy="198" r="2.0" fill="#3a83bf" />
<circle cx="290.1" cy="194.8" r="2.0" fill="#3a83bf" />
<circle cx="299.6" cy="195.4" r="2.0" fill="#3a83bf" />
<circle cx="300.5" cy="197.3" r="2.0" fill="#3a83bf" />
<circle cx="298.6" cy="199.6" r="2.0" fill="#3a83bf" />
<circle cx="308.1" cy="199.6" r="2.0" fill="#3a83bf" />
<circle cx="314.4" cy="190.7" r="2.0" fill="#3a83bf" />
<circle cx="263.2" cy="207.5" r="2.0" fill="#3a83bf" />
<circle cx="269.5" cy="210" r="2.0" fill="#3a83bf" />
<circle cx="281.5" cy="205.9" r="2.0" fill="#3a83bf" />
<circle cx="297.3" cy="204.3" r="2.0" fill="#3a83bf" />
<circle cx="263.8" cy="213.8" r="2.0" fill="#3a83bf" />
<circle cx="267" cy="217" r="2.0" fill="#3a83bf" />
<circle cx="283.7" cy="214.4" r="2.0" fill="#3a83bf" />
<circle cx="288.5" cy="217.6" r="2.0" fill="#3a83bf" />
<circle cx="290.7" cy="218.5" r="2.0" fill="#3a83bf" />
<circle cx="294.2" cy="216.3" r="2.0" fill="#3a83bf" />
<circle cx="295.4" cy="213.2" r="2.0" fill="#3a83bf" />
<circle cx="279.6" cy="221.7" r="2.0" fill="#3a83bf" />
<circle cx="302.7" cy="220.1" r="2.0" fill="#3a83bf" />
<circle cx="274.2" cy="229.6" r="2.0" fill="#3a83bf" />
<circle cx="280.6" cy="228" r="2.0" fill="#3a83bf" />
<circle cx="323.1" cy="171.4" r="2.0" fill="#3a83bf" />
<circle cx="338.4" cy="190.2" r="2.0" fill="#3a83bf" />
<circle cx="351.6" cy="183.1" r="2.0" fill="#3a83bf" />
<line x1="263.3" y1="148.2" x2="263.3" y2="233.4" stroke="#8c8c8c" stroke-width="0.9" />
<line x1="263.3" y1="233.4" x2="352" y2="233.4" stroke="#8c8c8c" stroke-width="0.9" />
<line x1="260.9" y1="163.5" x2="263.3" y2="163.5" stroke="#8c8c8c" stroke-width="0.9" />
<text x="260.4" y="167.11" font-size="9.8" text-anchor="end">0.6</text>
<line x1="260.9" y1="185.8" x2="263.3" y2="185.8" stroke="#8c8c8c" stroke-width="0.9" />
<text x="260.4" y="189.41" font-size="9.8" text-anchor="end">0.5</text>
<line x1="260.9" y1="208.2" x2="263.3" y2="208.2" stroke="#8c8c8c" stroke-width="0.9" />
<text x="260.4" y="211.81" font-size="9.8" text-anchor="end">0.4</text>
<line x1="260.9" y1="230.6" x2="263.3" y2="230.6" stroke="#8c8c8c" stroke-width="0.9" />
<text x="260.4" y="234.21" font-size="9.8" text-anchor="end">0.3</text>
<line x1="274.3" y1="233.4" x2="274.3" y2="236" stroke="#8c8c8c" stroke-width="0.9" />
<text x="274.3" y="242.8" font-size="9.8" text-anchor="middle">0.0</text>
<line x1="339.4" y1="233.4" x2="339.4" y2="236" stroke="#8c8c8c" stroke-width="0.9" />
<text x="339.4" y="242.8" font-size="9.8" text-anchor="middle">0.2</text>
<text x="289.8" y="251.7" font-size="9.4" textLength="38.6" lengthAdjust="spacingAndGlyphs">RT effect</text>
<text x="267.8" y="154" font-size="9.3" font-family='"Liberation Serif", serif' class="pv" textLength="34.6" lengthAdjust="spacing"><tspan font-style="italic">r</tspan> = 0.56</text>
<text x="267.8" y="166.3" font-size="9.3" font-family='"Liberation Serif", serif' class="pv" textLength="40.2" lengthAdjust="spacing"><tspan font-style="italic">p</tspan> = 0.001</text>
<text x="238.2" y="195.6" font-size="9.4" text-anchor="middle" textLength="55.8" lengthAdjust="spacingAndGlyphs" transform="rotate(-90 238.2 195.6)">P(affordance)</text>
<text x="358.4" y="10.5" font-size="14.5" font-weight="bold" fill="#000">d</text>
<polygon points="398.3,69 403.83,65 409.36,61.5 414.89,59 420.42,55.5 425.95,54.6 431.48,50.6 437.01,53.3 442.54,50.9 448.07,48.8 453.6,51.4 459.13,47.8 464.66,48.9 470.19,46 475.72,47.1 481.25,46.6 486.78,45.4 492.31,44.4 497.84,42.8 503.37,38.2 508.9,40.9 508.9,64.9 503.37,58.2 497.84,60.8 492.31,61.4 486.78,61.4 481.25,61.6 475.72,61.1 470.19,60 464.66,62.9 459.13,61.8 453.6,65.4 448.07,62.8 442.54,64.9 437.01,67.3 431.48,64.6 425.95,68.6 420.42,69.5 414.89,73 409.36,75.5 403.83,79 398.3,83" fill="#d62728" fill-opacity="0.23" stroke="none"/>
<polygon points="398.3,67 403.83,60.5 409.36,53.5 414.89,50 420.42,48.7 425.95,47 431.48,44.4 437.01,42.3 442.54,44.1 448.07,42.9 453.6,41.7 459.13,38.3 464.66,39.5 470.19,40.3 475.72,39.9 481.25,38.6 486.78,38.6 492.31,38.1 497.84,36 503.37,34 508.9,30.7 508.9,46.7 503.37,49 497.84,50 492.31,51.1 486.78,50.6 481.25,50.6 475.72,50.9 470.19,51.3 464.66,50.5 459.13,49.3 453.6,52.7 448.07,53.9 442.54,55.1 437.01,53.3 431.48,55.4 425.95,58 420.42,59.7 414.89,61 409.36,64.5 403.83,71.5 398.3,78" fill="#ff7f0e" fill-opacity="0.23" stroke="none"/>
<polygon points="398.3,55.5 403.83,53 409.36,50 414.89,47.5 420.42,46.2 425.95,45.2 431.48,48.2 437.01,43.9 442.54,45.8 448.07,45.8 453.6,40.1 459.13,39.1 464.66,46 470.19,40.3 475.72,38 481.25,38.6 486.78,36.5 492.31,36.5 497.84,31.9 503.37,27 508.9,20.6 508.9,42.6 503.37,46 497.84,47.9 492.31,50.5 486.78,49.5 481.25,50.6 475.72,49 470.19,51.3 464.66,57 459.13,50.1 453.6,51.1 448.07,56.8 442.54,56.8 437.01,54.9 431.48,59.2 425.95,56.2 420.42,57.2 414.89,58.5 409.36,61 403.83,64 398.3,66.5" fill="#2ca02c" fill-opacity="0.23" stroke="none"/>
<polygon points="398.3,53.1 403.83,48.5 409.36,44 414.89,40 420.42,36.5 425.95,35.3 431.48,35.9 437.01,36.7 442.54,30.5 448.07,28.5 453.6,31.8 459.13,30.8 464.66,32.5 470.19,30.8 475.72,29.7 481.25,30.5 486.78,30.8 492.31,31 497.84,31.5 503.37,28 508.9,24.8 508.9,40.8 503.37,43 497.84,45.5 492.31,44 486.78,42.8 481.25,42.5 475.72,40.7 470.19,41.8 464.66,43.5 459.13,41.8 453.6,42.8 448.07,39.5 442.54,41.5 437.01,47.7 431.48,46.9 425.95,46.3 420.42,47.5 414.89,51 409.36,55 403.83,59.5 398.3,64.1" fill="#1f77b4" fill-opacity="0.23" stroke="none"/>
<polyline points="398.3,76 403.83,72 409.36,68.5 414.89,66 420.42,62.5 425.95,61.6 431.48,57.6 437.01,60.3 442.54,57.9 448.07,55.8 453.6,58.4 459.13,54.8 464.66,55.9 470.19,53 475.72,54.1 481.25,54.1 486.78,53.4 492.31,52.9 497.84,51.8 503.37,48.2 508.9,52.9" fill="none" stroke="#d62728" stroke-width="1.3" stroke-dasharray="3.5 1.5 1 1.5" stroke-linejoin="round" />
<polyline points="398.3,72.5 403.83,66 409.36,59 414.89,55.5 420.42,54.2 425.95,52.5 431.48,49.9 437.01,47.8 442.54,49.6 448.07,48.4 453.6,47.2 459.13,43.8 464.66,45 470.19,45.8 475.72,45.4 481.25,44.6 486.78,44.6 492.31,44.6 497.84,43 503.37,41.5 508.9,38.7" fill="none" stroke="#ff7f0e" stroke-width="1.3" stroke-dasharray="3 2" stroke-linejoin="round" />
<polyline points="398.3,61 403.83,58.5 409.36,55.5 414.89,53 420.42,51.7 425.95,50.7 431.48,53.7 437.01,49.4 442.54,51.3 448.07,51.3 453.6,45.6 459.13,44.6 464.66,51.5 470.19,45.8 475.72,43.5 481.25,44.6 486.78,43 492.31,43.5 497.84,39.9 503.37,36.5 508.9,31.6" fill="none" stroke="#2ca02c" stroke-width="1.3" stroke-dasharray="1.2 1.8" stroke-linejoin="round" />
<polyline points="398.3,58.6 403.83,54 409.36,49.5 414.89,45.5 420.42,42 425.95,40.8 431.48,41.4 437.01,42.2 442.54,36 448.07,34 453.6,37.3 459.13,36.3 464.66,38 470.19,36.3 475.72,35.2 481.25,36.5 486.78,36.8 492.31,37.5 497.84,38.5 503.37,35.5 508.9,32.8" fill="none" stroke="#1f77b4" stroke-width="1.3" stroke-linejoin="round" />
<polyline points="398.3,90.4 403.83,93.9 409.36,94.8 414.89,95.4 420.42,94.3 425.95,94.3 431.48,99.4 437.01,95.4 442.54,94.8 448.07,96.1 453.6,93.2 459.13,94.8 464.66,100.5 470.19,93.2 475.72,97 481.25,93.7 486.78,98.1 492.31,95 497.84,95 503.37,93.9 508.9,91" fill="none" stroke="#737373" stroke-width="1.0" stroke-linejoin="round" />
<path d="M398.3 78.6V84.4M395.79 80.05L400.81 82.95M395.79 82.95L400.81 80.05" stroke="#3a3a3a" stroke-width="0.75" fill="none"/>
<circle cx="398.3" cy="81.5" r="0.8" fill="#3a3a3a" />
<path d="M403.83 78.6V84.4M401.32 80.05L406.34 82.95M401.32 82.95L406.34 80.05" stroke="#3a3a3a" stroke-width="0.75" fill="none"/>
<circle cx="403.83" cy="81.5" r="0.8" fill="#3a3a3a" />
<path d="M409.36 78.6V84.4M406.85 80.05L411.87 82.95M406.85 82.95L411.87 80.05" stroke="#3a3a3a" stroke-width="0.75" fill="none"/>
<circle cx="409.36" cy="81.5" r="0.8" fill="#3a3a3a" />
<path d="M420.42 78.6V84.4M417.91 80.05L422.93 82.95M417.91 82.95L422.93 80.05" stroke="#3a3a3a" stroke-width="0.75" fill="none"/>
<circle cx="420.42" cy="81.5" r="0.8" fill="#3a3a3a" />
<path d="M425.95 78.6V84.4M423.44 80.05L428.46 82.95M423.44 82.95L428.46 80.05" stroke="#3a3a3a" stroke-width="0.75" fill="none"/>
<circle cx="425.95" cy="81.5" r="0.8" fill="#3a3a3a" />
<path d="M437.01 78.6V84.4M434.5 80.05L439.52 82.95M434.5 82.95L439.52 80.05" stroke="#3a3a3a" stroke-width="0.75" fill="none"/>
<circle cx="437.01" cy="81.5" r="0.8" fill="#3a3a3a" />
<path d="M453.6 78.6V84.4M451.09 80.05L456.11 82.95M451.09 82.95L456.11 80.05" stroke="#3a3a3a" stroke-width="0.75" fill="none"/>
<circle cx="453.6" cy="81.5" r="0.8" fill="#3a3a3a" />
<path d="M459.13 78.6V84.4M456.62 80.05L461.64 82.95M456.62 82.95L461.64 80.05" stroke="#3a3a3a" stroke-width="0.75" fill="none"/>
<circle cx="459.13" cy="81.5" r="0.8" fill="#3a3a3a" />
<path d="M470.19 78.6V84.4M467.68 80.05L472.7 82.95M467.68 82.95L472.7 80.05" stroke="#3a3a3a" stroke-width="0.75" fill="none"/>
<circle cx="470.19" cy="81.5" r="0.8" fill="#3a3a3a" />
<path d="M481.25 78.6V84.4M478.74 80.05L483.76 82.95M478.74 82.95L483.76 80.05" stroke="#3a3a3a" stroke-width="0.75" fill="none"/>
<circle cx="481.25" cy="81.5" r="0.8" fill="#3a3a3a" />
<line x1="393" y1="15.7" x2="393" y2="105" stroke="#8c8c8c" stroke-width="0.9" />
<line x1="393" y1="105" x2="517.3" y2="105" stroke="#8c8c8c" stroke-width="0.9" />
<line x1="390.6" y1="30.7" x2="393" y2="30.7" stroke="#8c8c8c" stroke-width="0.9" />
<text x="389.6" y="34.01" font-size="9.8" text-anchor="end">0.75</text>
<line x1="390.6" y1="55.6" x2="393" y2="55.6" stroke="#8c8c8c" stroke-width="0.9" />
<text x="389.6" y="58.91" font-size="9.8" text-anchor="end">0.50</text>
<line x1="390.6" y1="80.5" x2="393" y2="80.5" stroke="#8c8c8c" stroke-width="0.9" />
<text x="389.6" y="83.81" font-size="9.8" text-anchor="end">0.25</text>
<line x1="390.6" y1="105.4" x2="393" y2="105.4" stroke="#8c8c8c" stroke-width="0.9" />
<text x="389.6" y="108.71" font-size="9.8" text-anchor="end">0.00</text>
<line x1="398.3" y1="105" x2="398.3" y2="107.6" stroke="#8c8c8c" stroke-width="0.9" />
<text x="398.3" y="115.3" font-size="9.8" text-anchor="middle">0</text>
<line x1="453.6" y1="105" x2="453.6" y2="107.6" stroke="#8c8c8c" stroke-width="0.9" />
<text x="453.6" y="115.3" font-size="9.8" text-anchor="middle">10</text>
<line x1="508.9" y1="105" x2="508.9" y2="107.6" stroke="#8c8c8c" stroke-width="0.9" />
<text x="508.9" y="115.3" font-size="9.8" text-anchor="middle">20</text>
<text x="452.1" y="124.2" font-size="9.4" text-anchor="middle" textLength="17.6" lengthAdjust="spacingAndGlyphs">Trial</text>
<text x="373" y="13.6" font-size="9.4" textLength="58" lengthAdjust="spacingAndGlyphs">P(correct), ΔP</text>
<line x1="448.7" y1="11.4" x2="460.2" y2="11.4" stroke="#1f77b4" stroke-width="1.05" stroke-opacity="0.85"/>
<text x="462.7" y="14.3" font-size="9.4" textLength="12.2" lengthAdjust="spacingAndGlyphs">CH</text>
<line x1="478.7" y1="11.4" x2="490.2" y2="11.4" stroke="#2ca02c" stroke-width="1.05" stroke-dasharray="1 1.2" stroke-opacity="0.85"/>
<text x="492.7" y="14.3" font-size="9.4" textLength="10.8" lengthAdjust="spacingAndGlyphs">CL</text>
<line x1="448.7" y1="22.1" x2="460.2" y2="22.1" stroke="#ff7f0e" stroke-width="1.05" stroke-dasharray="2.2 1.2" stroke-opacity="0.85"/>
<text x="462.7" y="25" font-size="9.4" textLength="8.6" lengthAdjust="spacingAndGlyphs">IH</text>
<line x1="478.7" y1="22.1" x2="490.2" y2="22.1" stroke="#d62728" stroke-width="1.05" stroke-dasharray="2.2 1 1 1" stroke-opacity="0.85"/>
<text x="492.7" y="25" font-size="9.4" textLength="7.6" lengthAdjust="spacingAndGlyphs">IL</text>
<line x1="477.3" y1="70.2" x2="488.8" y2="70.2" stroke="#737373" stroke-width="1.0" />
<text x="490.5" y="73.6" font-size="9.4" textLength="11.2" lengthAdjust="spacingAndGlyphs">ΔP</text>
<text x="362.1" y="138.3" font-size="14.5" font-weight="bold" fill="#000">i</text>
<polygon points="398.8,197.3 404.3,194.1 409.8,191 415.3,192.5 420.8,188.5 426.3,183.1 431.8,184 437.3,180.8 442.8,182 448.3,183.2 453.8,186.8 459.3,183.2 464.8,182 470.3,181 475.8,178.5 481.3,177.3 486.8,174.9 492.3,174.9 497.8,171.4 503.3,171.4 508.8,167.8 508.8,183.8 503.3,187.4 497.8,187.4 492.3,190.9 486.8,190.9 481.3,193.3 475.8,194.5 470.3,197 464.8,198 459.3,199.2 453.8,202.8 448.3,199.2 442.8,198 437.3,196.8 431.8,200 426.3,199.1 420.8,204.5 415.3,208.5 409.8,207 404.3,210.1 398.8,213.3" fill="#d62728" fill-opacity="0.23" stroke="none"/>
<polygon points="398.8,200.7 404.3,180.5 409.8,174.6 415.3,173.4 420.8,172.3 426.3,173.4 431.8,169 437.3,174.7 442.8,173.5 448.3,168.8 453.8,167.6 459.3,165.3 464.8,164.1 470.3,162.3 475.8,160.5 481.3,161.7 486.8,162.9 492.3,165.3 497.8,163 503.3,164.5 508.8,162 508.8,176 503.3,178.5 497.8,177 492.3,179.3 486.8,176.9 481.3,175.7 475.8,174.5 470.3,176.3 464.8,178.1 459.3,179.3 453.8,181.6 448.3,182.8 442.8,187.5 437.3,188.7 431.8,183 426.3,187.4 420.8,186.3 415.3,187.4 409.8,188.6 404.3,194.5 398.8,214.7" fill="#ff7f0e" fill-opacity="0.23" stroke="none"/>
<polygon points="398.8,186.8 404.3,182 409.8,184.4 415.3,182.5 420.8,179.7 426.3,177.3 431.8,171.7 437.3,174 442.8,171.7 448.3,170.5 453.8,170.5 459.3,169.5 464.8,174.5 470.3,177.8 475.8,180 481.3,175.3 486.8,175.9 492.3,172.6 497.8,164.6 503.3,173.5 508.8,158.9 508.8,180.9 503.3,199.5 497.8,184.6 492.3,188.6 486.8,189.9 481.3,188.3 475.8,193 470.3,190.8 464.8,187.5 459.3,182.5 453.8,183.5 448.3,183.5 442.8,184.7 437.3,187 431.8,184.7 426.3,188.3 420.8,190.7 415.3,193.5 409.8,195.4 404.3,193 398.8,197.8" fill="#2ca02c" fill-opacity="0.23" stroke="none"/>
<polygon points="398.8,175.5 404.3,172 409.8,168.7 415.3,165.5 420.8,160.5 426.3,162.8 431.8,159.5 437.3,161.5 442.8,158.1 448.3,155.8 453.8,161.7 459.3,158.1 464.8,160.5 470.3,154.5 475.8,157 481.3,158.2 486.8,158.2 492.3,157 497.8,157 503.3,152.2 508.8,159.3 508.8,173.3 503.3,166.2 497.8,171 492.3,171 486.8,172.2 481.3,172.2 475.8,171 470.3,168.5 464.8,174.5 459.3,172.1 453.8,175.7 448.3,169.8 442.8,172.1 437.3,175.5 431.8,173.5 426.3,176.8 420.8,174.5 415.3,179.5 409.8,182.7 404.3,186 398.8,189.5" fill="#1f77b4" fill-opacity="0.23" stroke="none"/>
<polyline points="398.8,205.3 404.3,202.1 409.8,199 415.3,200.5 420.8,196.5 426.3,191.1 431.8,192 437.3,188.8 442.8,190 448.3,191.2 453.8,194.8 459.3,191.2 464.8,190 470.3,189 475.8,186.5 481.3,185.3 486.8,182.9 492.3,182.9 497.8,179.4 503.3,179.4 508.8,175.8" fill="none" stroke="#d62728" stroke-width="1.3" stroke-dasharray="3.5 1.5 1 1.5" stroke-linejoin="round" />
<polyline points="398.8,207.7 404.3,187.5 409.8,181.6 415.3,180.4 420.8,179.3 426.3,180.4 431.8,176 437.3,181.7 442.8,180.5 448.3,175.8 453.8,174.6 459.3,172.3 464.8,171.1 470.3,169.3 475.8,167.5 481.3,168.7 486.8,169.9 492.3,172.3 497.8,170 503.3,171.5 508.8,169" fill="none" stroke="#ff7f0e" stroke-width="1.3" stroke-dasharray="3 2" stroke-linejoin="round" />
<polyline points="398.8,192.3 404.3,187.5 409.8,189.9 415.3,188 420.8,185.2 426.3,182.8 431.8,178.2 437.3,180.5 442.8,178.2 448.3,177 453.8,177 459.3,176 464.8,181 470.3,184.3 475.8,186.5 481.3,181.8 486.8,182.9 492.3,180.6 497.8,174.6 503.3,186.5 508.8,169.9" fill="none" stroke="#2ca02c" stroke-width="1.3" stroke-dasharray="1.2 1.8" stroke-linejoin="round" />
<polyline points="398.8,182.5 404.3,179 409.8,175.7 415.3,172.5 420.8,167.5 426.3,169.8 431.8,166.5 437.3,168.5 442.8,165.1 448.3,162.8 453.8,168.7 459.3,165.1 464.8,167.5 470.3,161.5 475.8,164 481.3,165.2 486.8,165.2 492.3,164 497.8,164 503.3,159.2 508.8,166.3" fill="none" stroke="#1f77b4" stroke-width="1.3" stroke-linejoin="round" />
<polyline points="398.8,215.6 404.3,217.5 409.8,228.7 415.3,224.1 420.8,225.5 426.3,227.1 431.8,219.5 437.3,222 442.8,224.8 448.3,217.9 453.8,221.8 459.3,220.7 464.8,224.8 470.3,228.2 475.8,230.5 481.3,230.1 486.8,230.1 492.3,227.5 497.8,228.7 503.3,230.5 508.8,226.4" fill="none" stroke="#737373" stroke-width="1.0" stroke-linejoin="round" />
<path d="M398.8 208.1V213.9M396.29 209.55L401.31 212.45M396.29 212.45L401.31 209.55" stroke="#3a3a3a" stroke-width="0.75" fill="none"/>
<circle cx="398.8" cy="211" r="0.8" fill="#3a3a3a" />
<path d="M404.3 208.1V213.9M401.79 209.55L406.81 212.45M401.79 212.45L406.81 209.55" stroke="#3a3a3a" stroke-width="0.75" fill="none"/>
<circle cx="404.3" cy="211" r="0.8" fill="#3a3a3a" />
<path d="M431.8 208.1V213.9M429.29 209.55L434.31 212.45M429.29 212.45L434.31 209.55" stroke="#3a3a3a" stroke-width="0.75" fill="none"/>
<circle cx="431.8" cy="211" r="0.8" fill="#3a3a3a" />
<path d="M437.3 208.1V213.9M434.79 209.55L439.81 212.45M434.79 212.45L439.81 209.55" stroke="#3a3a3a" stroke-width="0.75" fill="none"/>
<circle cx="437.3" cy="211" r="0.8" fill="#3a3a3a" />
<path d="M448.3 208.1V213.9M445.79 209.55L450.81 212.45M445.79 212.45L450.81 209.55" stroke="#3a3a3a" stroke-width="0.75" fill="none"/>
<circle cx="448.3" cy="211" r="0.8" fill="#3a3a3a" />
<path d="M453.8 208.1V213.9M451.29 209.55L456.31 212.45M451.29 212.45L456.31 209.55" stroke="#3a3a3a" stroke-width="0.75" fill="none"/>
<circle cx="453.8" cy="211" r="0.8" fill="#3a3a3a" />
<path d="M459.3 208.1V213.9M456.79 209.55L461.81 212.45M456.79 212.45L461.81 209.55" stroke="#3a3a3a" stroke-width="0.75" fill="none"/>
<circle cx="459.3" cy="211" r="0.8" fill="#3a3a3a" />
<line x1="393.7" y1="144.2" x2="393.7" y2="233.5" stroke="#8c8c8c" stroke-width="0.9" />
<line x1="393.7" y1="233.5" x2="516.8" y2="233.5" stroke="#8c8c8c" stroke-width="0.9" />
<line x1="391.3" y1="159.2" x2="393.7" y2="159.2" stroke="#8c8c8c" stroke-width="0.9" />
<text x="389.9" y="162.51" font-size="9.8" text-anchor="end">0.75</text>
<line x1="391.3" y1="184.2" x2="393.7" y2="184.2" stroke="#8c8c8c" stroke-width="0.9" />
<text x="389.9" y="187.51" font-size="9.8" text-anchor="end">0.50</text>
<line x1="391.3" y1="209" x2="393.7" y2="209" stroke="#8c8c8c" stroke-width="0.9" />
<text x="389.9" y="212.31" font-size="9.8" text-anchor="end">0.25</text>
<line x1="391.3" y1="233.7" x2="393.7" y2="233.7" stroke="#8c8c8c" stroke-width="0.9" />
<text x="389.9" y="237.01" font-size="9.8" text-anchor="end">0.00</text>
<line x1="398.8" y1="233.5" x2="398.8" y2="236.1" stroke="#8c8c8c" stroke-width="0.9" />
<text x="398.8" y="243.8" font-size="9.8" text-anchor="middle">0</text>
<line x1="453.8" y1="233.5" x2="453.8" y2="236.1" stroke="#8c8c8c" stroke-width="0.9" />
<text x="453.8" y="243.8" font-size="9.8" text-anchor="middle">10</text>
<line x1="508.8" y1="233.5" x2="508.8" y2="236.1" stroke="#8c8c8c" stroke-width="0.9" />
<text x="508.8" y="243.8" font-size="9.8" text-anchor="middle">20</text>
<text x="452.3" y="252.7" font-size="9.4" text-anchor="middle" textLength="17.6" lengthAdjust="spacingAndGlyphs">Trial</text>
<text x="373" y="141.6" font-size="9.4" textLength="58" lengthAdjust="spacingAndGlyphs">P(correct), ΔP</text>
<line x1="448.7" y1="139.4" x2="460.2" y2="139.4" stroke="#1f77b4" stroke-width="1.05" stroke-opacity="0.85"/>
<text x="462.7" y="142.3" font-size="9.4" textLength="12.2" lengthAdjust="spacingAndGlyphs">CH</text>
<line x1="478.7" y1="139.4" x2="490.2" y2="139.4" stroke="#2ca02c" stroke-width="1.05" stroke-dasharray="1 1.2" stroke-opacity="0.85"/>
<text x="492.7" y="142.3" font-size="9.4" textLength="10.8" lengthAdjust="spacingAndGlyphs">CL</text>
<line x1="448.7" y1="150.1" x2="460.2" y2="150.1" stroke="#ff7f0e" stroke-width="1.05" stroke-dasharray="2.2 1.2" stroke-opacity="0.85"/>
<text x="462.7" y="153" font-size="9.4" textLength="8.6" lengthAdjust="spacingAndGlyphs">IH</text>
<line x1="478.7" y1="150.1" x2="490.2" y2="150.1" stroke="#d62728" stroke-width="1.05" stroke-dasharray="2.2 1 1 1" stroke-opacity="0.85"/>
<text x="492.7" y="153" font-size="9.4" textLength="7.6" lengthAdjust="spacingAndGlyphs">IL</text>
<line x1="477.3" y1="198.2" x2="488.8" y2="198.2" stroke="#737373" stroke-width="1.0" />
<text x="490.5" y="201.6" font-size="9.4" textLength="11.2" lengthAdjust="spacingAndGlyphs">ΔP</text>
<text x="521.6" y="10.5" font-size="14.5" font-weight="bold" fill="#000">e</text>
<polygon points="562,101.3 567.23,91.5 572.46,84.2 577.69,75.8 582.92,71 588.15,67 593.38,61.2 598.61,54.7 603.84,48.5 609.07,43.5 614.3,28 619.53,28.5 624.76,24.4 629.99,23.4 635.22,26 640.45,24.8 645.68,25.4 650.91,25.5 656.14,25.5 661.37,25.5 661.37,26.5 656.14,26.5 650.91,26.5 645.68,26.6 640.45,33.8 635.22,36 629.99,35.4 624.76,38.4 619.53,43.5 614.3,42 609.07,55.5 603.84,59.5 598.61,66.3 593.38,72.8 588.15,78 582.92,81 577.69,84.2 572.46,91.8 567.23,98.5 562,107.7" fill="#ff7f0e" fill-opacity="0.24" stroke="none"/>
<polygon points="562,90.6 567.23,82.6 572.46,75.7 577.69,71.9 582.92,62.4 588.15,60.3 593.38,52.7 598.61,48.5 603.84,36.3 609.07,35.7 614.3,36.5 619.53,34.6 624.76,39.1 629.99,24.9 635.22,30 640.45,28 645.68,25.4 650.91,25.5 656.14,25.5 661.37,25.5 661.37,26.5 656.14,26.5 650.91,26.5 645.68,26.6 640.45,38 635.22,41 629.99,33.9 624.76,52.1 619.53,43.8 614.3,45.1 609.07,44.3 603.84,44.7 598.61,56.1 593.38,59.9 588.15,67.3 582.92,69.2 577.69,78.3 572.46,81.7 567.23,88.6 562,96.6" fill="#1f77b4" fill-opacity="0.24" stroke="none"/>
<polyline points="562,39.2 567.23,40.4 572.46,34.5 577.69,54.5 582.92,39.2 588.15,48 593.38,43.6 598.61,52 603.84,39.1 609.07,41 614.3,77.5 619.53,62.5 624.76,95 629.99,66.6 635.22,77.3 640.45,74.2 645.68,65.4 650.91,65.4 656.14,65.4" fill="none" stroke="#737373" stroke-width="1.0" stroke-linejoin="round" />
<polyline points="562,93.6 567.23,85.6 572.46,78.7 577.69,75.1 582.92,65.8 588.15,63.8 593.38,56.3 598.61,52.3 603.84,40.5 609.07,40 614.3,40.8 619.53,39.2 624.76,45.6 629.99,29.4 635.22,35.5 640.45,33 645.68,26 650.91,26 656.14,26 661.37,26" fill="none" stroke="#1f77b4" stroke-width="1.3" stroke-linejoin="round" />
<polyline points="562,104.5 567.23,95 572.46,88 577.69,80 582.92,76 588.15,72.5 593.38,67 598.61,60.5 603.84,54 609.07,49.5 614.3,35 619.53,36 624.76,31.4 629.99,29.4 635.22,31 640.45,29.3 645.68,26 650.91,26 656.14,26 661.37,26" fill="none" stroke="#ff7f0e" stroke-width="1.3" stroke-dasharray="3 2" stroke-linejoin="round" />
<line x1="557.3" y1="22.4" x2="557.3" y2="105" stroke="#8c8c8c" stroke-width="0.9" />
<line x1="557.3" y1="105" x2="667" y2="105" stroke="#8c8c8c" stroke-width="0.9" />
<line x1="667" y1="24.9" x2="667" y2="105" stroke="#8c8c8c" stroke-width="0.9" />
<line x1="554.9" y1="25.9" x2="557.3" y2="25.9" stroke="#8c8c8c" stroke-width="0.9" />
<text x="553.6" y="29.31" font-size="9.8" text-anchor="end">1.0</text>
<line x1="554.9" y1="48.6" x2="557.3" y2="48.6" stroke="#8c8c8c" stroke-width="0.9" />
<text x="553.6" y="52.01" font-size="9.8" text-anchor="end">0.8</text>
<line x1="554.9" y1="71.3" x2="557.3" y2="71.3" stroke="#8c8c8c" stroke-width="0.9" />
<text x="553.6" y="74.71" font-size="9.8" text-anchor="end">0.6</text>
<line x1="554.9" y1="94" x2="557.3" y2="94" stroke="#8c8c8c" stroke-width="0.9" />
<text x="553.6" y="97.41" font-size="9.8" text-anchor="end">0.4</text>
<line x1="667" y1="39.5" x2="669.6" y2="39.5" stroke="#8c8c8c" stroke-width="0.9" />
<text x="670.4" y="42.7" font-size="9.4">0.1</text>
<line x1="667" y1="66.3" x2="669.6" y2="66.3" stroke="#8c8c8c" stroke-width="0.9" />
<text x="670.4" y="69.5" font-size="9.4">0.0</text>
<line x1="667" y1="92.8" x2="669.6" y2="92.8" stroke="#8c8c8c" stroke-width="0.9" />
<text x="670.4" y="96" font-size="9.4">-0.1</text>
<line x1="562" y1="105" x2="562" y2="107.6" stroke="#8c8c8c" stroke-width="0.9" />
<text x="562" y="116.6" font-size="9.8" text-anchor="middle">0</text>
<line x1="614.3" y1="105" x2="614.3" y2="107.6" stroke="#8c8c8c" stroke-width="0.9" />
<text x="614.3" y="116.6" font-size="9.8" text-anchor="middle">10</text>
<text x="558.6" y="125.1" font-size="9.4" textLength="108.4" lengthAdjust="spacingAndGlyphs">Number of rewarded trials</text>
<text x="539.4" y="17.3" font-size="9.4" textLength="41.6" lengthAdjust="spacingAndGlyphs">P(correct)</text>
<text x="668.6" y="17.5" font-size="9.4" textLength="12" lengthAdjust="spacingAndGlyphs">ΔP</text>
<line x1="605.5" y1="9.5" x2="616.2" y2="9.5" stroke="#1f77b4" stroke-width="1.3" />
<line x1="605.5" y1="18.7" x2="616.2" y2="18.7" stroke="#ff7f0e" stroke-width="1.3" stroke-dasharray="3 2"/>
<text x="619.5" y="11.5" font-size="9.4" textLength="38.6" lengthAdjust="spacingAndGlyphs">Congruent</text>
<text x="619.9" y="21.2" font-size="9.4" textLength="44.2" lengthAdjust="spacingAndGlyphs">Incongruent</text>
<line x1="635.8" y1="93.4" x2="646.5" y2="93.4" stroke="#737373" stroke-width="1.0" />
<text x="648.8" y="96.6" font-size="9.4" textLength="10.5" lengthAdjust="spacingAndGlyphs">ΔP</text>
<text x="525" y="138.8" font-size="14.5" font-weight="bold" fill="#000">j</text>
<polygon points="561.2,230.1 566.55,222.4 571.9,217.5 577.25,213 582.6,206.4 587.95,198.1 593.3,189.6 598.65,180.7 604,170.4 609.35,161.3 614.7,158.1 620.05,157 625.4,154.7 630.75,148.8 636.1,153.5 641.45,149.1 646.8,148.1 652.15,161.7 657.5,152.9 662.85,151.9 662.85,153.9 657.5,156.9 652.15,185.7 646.8,161.1 641.45,159.1 636.1,165.5 630.75,160.8 625.4,165.7 620.05,167.8 614.7,168.9 609.35,172.1 604,180.4 598.65,189.7 593.3,197.6 587.95,206.1 582.6,213.4 577.25,220 571.9,224.5 566.55,228.4 561.2,236.1" fill="#ff7f0e" fill-opacity="0.24" stroke="none"/>
<polygon points="561.2,221.9 566.55,209.2 571.9,204.8 577.25,200.3 582.6,195.9 587.95,191.5 593.3,186.3 598.65,172.3 604,173.3 609.35,162.4 614.7,158.1 620.05,156.2 625.4,154.8 630.75,155.7 636.1,153.5 641.45,151.3 646.8,153.4 652.15,155.8 657.5,152.1 662.85,151.9 662.85,153.9 657.5,156.1 652.15,184.8 646.8,166.4 641.45,162.3 636.1,163.5 630.75,165.7 625.4,164.8 620.05,165.2 614.7,166.7 609.35,171 604,181.9 598.65,180.7 593.3,194.3 587.95,199.5 582.6,203.9 577.25,208.3 571.9,212.8 566.55,217.2 561.2,228.9" fill="#1f77b4" fill-opacity="0.24" stroke="none"/>
<polyline points="561.2,174.2 566.55,163.8 571.9,168.9 577.25,167.9 582.6,172.7 587.95,182.2 593.3,190 598.65,164 604,190.7 609.35,174.3 614.7,188.5 620.05,186.3 625.4,191 630.75,209.2 636.1,186.5 641.45,202.6 646.8,211.4 652.15,185.1 657.5,193.4" fill="none" stroke="#737373" stroke-width="1.0" stroke-linejoin="round" />
<polyline points="561.2,225.4 566.55,213.2 571.9,208.8 577.25,204.3 582.6,199.9 587.95,195.5 593.3,190.3 598.65,176.5 604,177.6 609.35,166.7 614.7,162.4 620.05,160.7 625.4,159.8 630.75,160.7 636.1,158.5 641.45,156.3 646.8,159.4 652.15,165.8 657.5,153.1 662.85,152.9" fill="none" stroke="#1f77b4" stroke-width="1.3" stroke-linejoin="round" />
<polyline points="561.2,233.1 566.55,225.4 571.9,221 577.25,216.5 582.6,209.9 587.95,202.1 593.3,193.6 598.65,185.2 604,175.4 609.35,166.7 614.7,163.5 620.05,162.4 625.4,160.2 630.75,154.8 636.1,159.5 641.45,153.1 646.8,153.1 652.15,169.7 657.5,153.9 662.85,152.9" fill="none" stroke="#ff7f0e" stroke-width="1.3" stroke-dasharray="3 2" stroke-linejoin="round" />
<line x1="556.5" y1="149.1" x2="556.5" y2="233.2" stroke="#8c8c8c" stroke-width="0.9" />
<line x1="556.5" y1="233.2" x2="667.2" y2="233.2" stroke="#8c8c8c" stroke-width="0.9" />
<line x1="667.2" y1="151.6" x2="667.2" y2="233.2" stroke="#8c8c8c" stroke-width="0.9" />
<line x1="554.1" y1="152.6" x2="556.5" y2="152.6" stroke="#8c8c8c" stroke-width="0.9" />
<text x="554.1" y="156.01" font-size="9.8" text-anchor="end">1.0</text>
<line x1="554.1" y1="175.9" x2="556.5" y2="175.9" stroke="#8c8c8c" stroke-width="0.9" />
<text x="554.1" y="179.31" font-size="9.8" text-anchor="end">0.8</text>
<line x1="554.1" y1="199.2" x2="556.5" y2="199.2" stroke="#8c8c8c" stroke-width="0.9" />
<text x="554.1" y="202.61" font-size="9.8" text-anchor="end">0.6</text>
<line x1="554.1" y1="222.6" x2="556.5" y2="222.6" stroke="#8c8c8c" stroke-width="0.9" />
<text x="554.1" y="226.01" font-size="9.8" text-anchor="end">0.4</text>
<line x1="667.2" y1="166.5" x2="669.8" y2="166.5" stroke="#8c8c8c" stroke-width="0.9" />
<text x="670.6" y="169.7" font-size="9.4">0.1</text>
<line x1="667.2" y1="193" x2="669.8" y2="193" stroke="#8c8c8c" stroke-width="0.9" />
<text x="670.6" y="196.2" font-size="9.4">0.0</text>
<line x1="667.2" y1="220" x2="669.8" y2="220" stroke="#8c8c8c" stroke-width="0.9" />
<text x="670.6" y="223.2" font-size="9.4">-0.1</text>
<line x1="561.2" y1="233.2" x2="561.2" y2="235.8" stroke="#8c8c8c" stroke-width="0.9" />
<text x="561.2" y="244.8" font-size="9.8" text-anchor="middle">0</text>
<line x1="614.7" y1="233.2" x2="614.7" y2="235.8" stroke="#8c8c8c" stroke-width="0.9" />
<text x="614.7" y="244.8" font-size="9.8" text-anchor="middle">10</text>
<text x="558.6" y="253.3" font-size="9.4" textLength="108.4" lengthAdjust="spacingAndGlyphs">Number of rewarded trials</text>
<text x="539.4" y="145.4" font-size="9.4" textLength="41.6" lengthAdjust="spacingAndGlyphs">P(correct)</text>
<text x="668.6" y="144.7" font-size="9.4" textLength="12" lengthAdjust="spacingAndGlyphs">ΔP</text>
<line x1="605.5" y1="136.7" x2="616.2" y2="136.7" stroke="#1f77b4" stroke-width="1.3" />
<line x1="605.5" y1="145.9" x2="616.2" y2="145.9" stroke="#ff7f0e" stroke-width="1.3" stroke-dasharray="3 2"/>
<text x="619.5" y="138.7" font-size="9.4" textLength="38.6" lengthAdjust="spacingAndGlyphs">Congruent</text>
<text x="619.9" y="148.4" font-size="9.4" textLength="44.2" lengthAdjust="spacingAndGlyphs">Incongruent</text>
<line x1="635.8" y1="220.8" x2="646.5" y2="220.8" stroke="#737373" stroke-width="1.0" />
<text x="648.8" y="224" font-size="9.4" textLength="10.5" lengthAdjust="spacingAndGlyphs">ΔP</text>
</svg>
</body></html>
